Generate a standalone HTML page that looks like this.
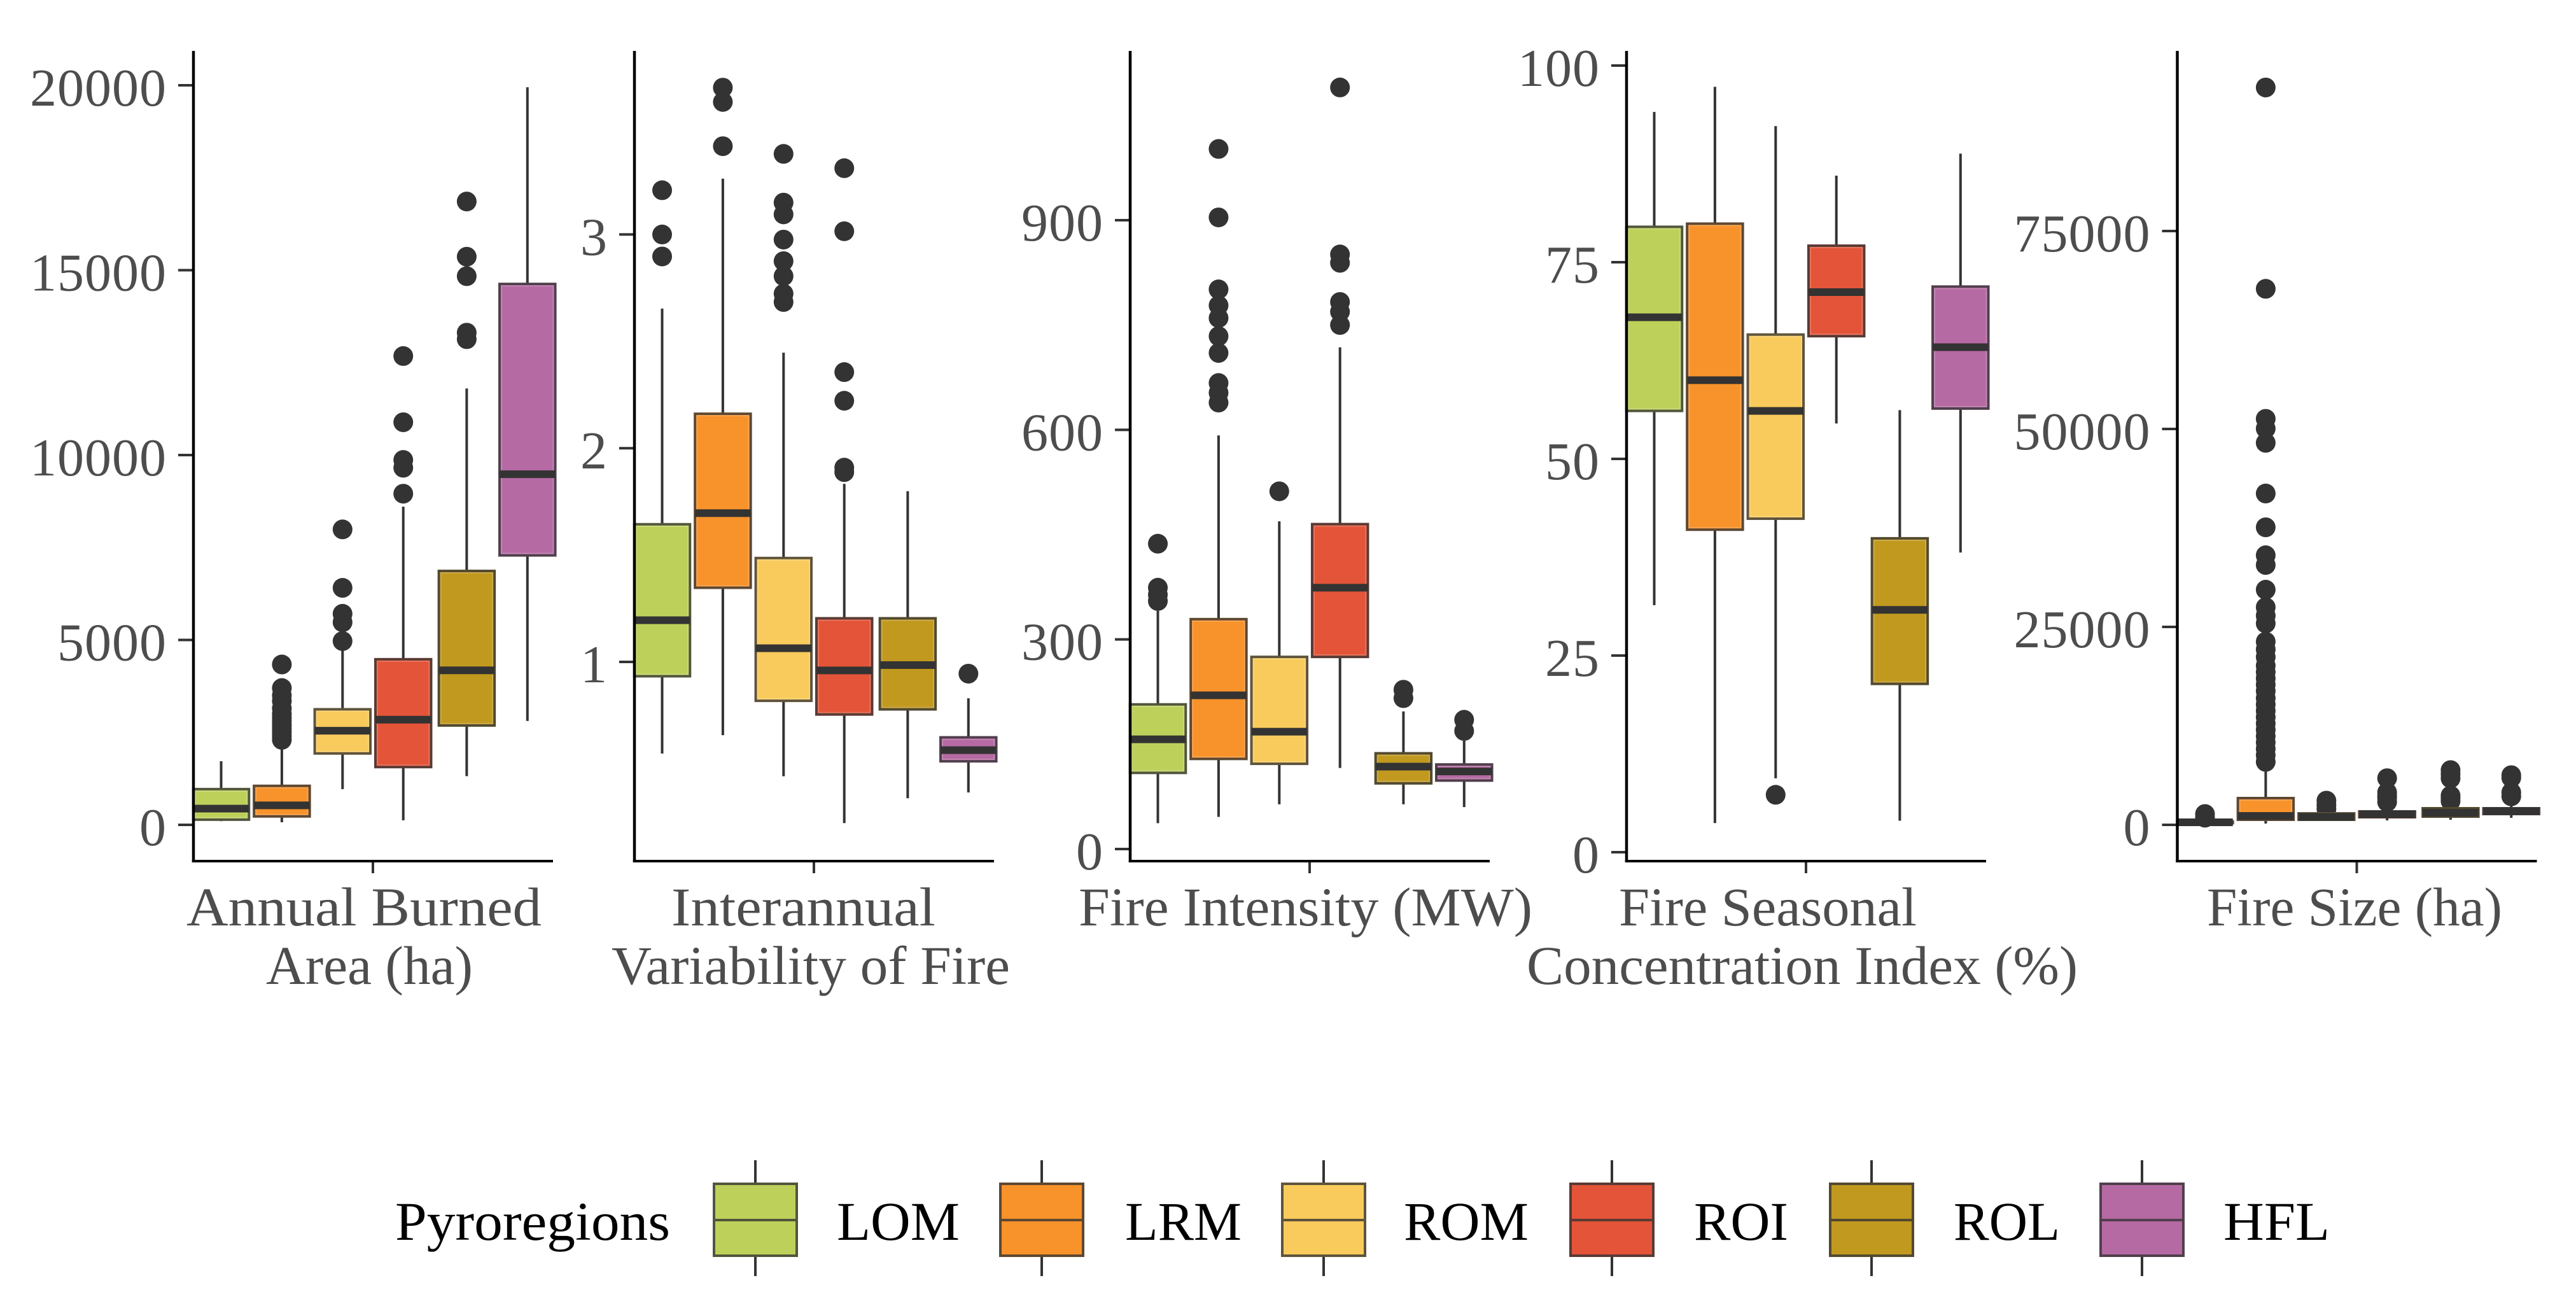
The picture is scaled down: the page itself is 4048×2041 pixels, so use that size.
<!DOCTYPE html>
<html lang="en">
<head>
<meta charset="utf-8">
<title>Fire regime metrics by pyroregion</title>
<style>
html,body{margin:0;padding:0;background:#fff;}
svg{display:block;}
text{font-family:"Liberation Serif",serif;}
.tick-text{font-size:84px;letter-spacing:1px;fill:#4d4d4d;text-anchor:end;}
.axis-title{font-size:86px;fill:#4d4d4d;}
.legend-text{font-size:86px;fill:#000;}
</style>
</head>
<body>
<svg id="chart" xmlns="http://www.w3.org/2000/svg" width="4048" height="2041" viewBox="0 0 4048 2041">
<rect x="0" y="0" width="4048" height="2041" fill="#fff"/>
<g id="panels"></g>

<g>
<text class="axis-title" x="293" y="1454" textLength="558" lengthAdjust="spacingAndGlyphs">Annual Burned</text>
<text class="axis-title" x="418" y="1546" textLength="325" lengthAdjust="spacingAndGlyphs">Area (ha)</text>
<text class="axis-title" x="1055" y="1454" textLength="415" lengthAdjust="spacingAndGlyphs">Interannual</text>
<text class="axis-title" x="961" y="1546" textLength="626" lengthAdjust="spacingAndGlyphs">Variability of Fire</text>
<text class="axis-title" x="1695" y="1454" textLength="713" lengthAdjust="spacingAndGlyphs">Fire Intensity (MW)</text>
<text class="axis-title" x="2544" y="1454" textLength="468" lengthAdjust="spacingAndGlyphs">Fire Seasonal</text>
<text class="axis-title" x="2399" y="1546" textLength="866" lengthAdjust="spacingAndGlyphs">Concentration Index (%)</text>
<text class="axis-title" x="3468" y="1454" textLength="464" lengthAdjust="spacingAndGlyphs">Fire Size (ha)</text>
</g>

<g>
<text class="legend-text" x="621" y="1948" textLength="432" lengthAdjust="spacingAndGlyphs">Pyroregions</text>
<g id="legend-keys"></g>
<text class="legend-text" x="1315" y="1948" textLength="193" lengthAdjust="spacingAndGlyphs">LOM</text>
<text class="legend-text" x="1768" y="1948" textLength="183" lengthAdjust="spacingAndGlyphs">LRM</text>
<text class="legend-text" x="2206" y="1948" textLength="196" lengthAdjust="spacingAndGlyphs">ROM</text>
<text class="legend-text" x="2662" y="1948" textLength="148" lengthAdjust="spacingAndGlyphs">ROI</text>
<text class="legend-text" x="3070" y="1948" textLength="167" lengthAdjust="spacingAndGlyphs">ROL</text>
<text class="legend-text" x="3494" y="1948" textLength="167" lengthAdjust="spacingAndGlyphs">HFL</text>
</g>
</svg>

<script>
const categories = ['LOM','LRM','ROM','ROI','ROL','HFL'];
const colors = ['#BDD15A','#F8922A','#F9CB5C','#E35438','#C1991F','#B66AA3'];

const areaTicks = [0,5000,10000,15000,20000];
const areaLow = [100,70,966,123,1317,2810];
const areaQ1 = [140,228,1931,1563,2687,7287];
const areaMedian = [439,527,2546,2845,4179,9482];
const areaQ3 = [966,1054,3125,4478,6866,14627];
const areaHigh = [1721,2107,4741,8604,11800,19947];
const areaOutliers = [[],[4337,3700,3500,3350,3150,3000,2900,2800,2700,2600,2500,2400,2300],[7990,6409,5707,5478,4969],[12678,10887,9868,9657,8955],[16857,15364,14838,13310,13134],[]];

const variabilityTicks = [1,2,3];
const variabilityLow = [0.571,0.657,0.465,0.246,0.362,0.389];
const variabilityQ1 = [0.933,1.347,0.818,0.754,0.778,0.535];
const variabilityMedian = [1.195,1.696,1.064,0.96,0.985,0.587];
const variabilityQ3 = [1.644,2.161,1.486,1.204,1.204,0.647];
const variabilityHigh = [2.653,3.261,2.447,1.833,1.799,0.83];
const variabilityOutliers = [[3.207,3.0,2.897],[3.687,3.62,3.413],[3.377,3.149,3.094,2.976,2.875,2.805,2.723,2.684],[3.31,3.015,2.356,2.222,1.909,1.888],[],[0.945]];

const intensityTicks = [0,300,600,900];
const intensityLow = [37,46,64,116,64,60];
const intensityQ1 = [109,129,122,275,94,98];
const intensityMedian = [157,220,168,374,118,111];
const intensityQ3 = [207,329,275,465,137,121];
const intensityHigh = [341,592,469,718,197,155];
const intensityOutliers = [[437,374,364,355],[1002,904,801,778,760,734,710,667,653,639],[512],[1090,851,839,783,769,750],[228,216],[185,169]];

const seasonalTicks = [0,25,50,75,100];
const seasonalLow = [31.4,3.7,9.4,54.5,4,38.1];
const seasonalQ1 = [56.1,41,42.4,65.6,21.4,56.4];
const seasonalMedian = [68,60,56.1,71.2,30.8,64.2];
const seasonalQ3 = [79.5,79.9,65.8,77.1,39.9,71.9];
const seasonalHigh = [94.1,97.3,92.3,86,56.2,88.8];
const seasonalOutliers = [[],[],[7.3],[],[],[]];

const sizeTicks = [0,25000,50000,75000];
const sizeLow = [200,160,600,560,650,884];
const sizeQ1 = [220,643,643,965,1045,1367];
const sizeMedian = [320,1125,1005,1367,1527,1728];
const sizeQ3 = [420,3376,1447,1688,2090,2090];
const sizeHigh = [800,7800,2000,2900,2900,3000];
const sizeOutliers = [[1367,900],[93130,67700,51280,50050,48250,41850,37580,34050,32820,29700,27490,26420,25440,23140,22150,21200,20100,19300,18500,17700,16900,16000,15200,14400,13600,12800,12000,11200,10400,9600,8800,7958],[3055,2500,2000],[5892,4100,3700,3430,2894],[6913,6400,5868,3700,3400,3000],[6270,5950,4100,3600]];

const panels = [
  {key:'burned-area', left:304, d0:0, d1:20000, r0:1296, r1:134, ticks:areaTicks, low:areaLow, q1:areaQ1, med:areaMedian, q3:areaQ3, high:areaHigh, out:areaOutliers},
  {key:'variability', left:997, d0:1, d1:3, r0:1040, r1:368.4, ticks:variabilityTicks, low:variabilityLow, q1:variabilityQ1, med:variabilityMedian, q3:variabilityQ3, high:variabilityHigh, out:variabilityOutliers},
  {key:'intensity', left:1776, d0:0, d1:900, r0:1334, r1:346, ticks:intensityTicks, low:intensityLow, q1:intensityQ1, med:intensityMedian, q3:intensityQ3, high:intensityHigh, out:intensityOutliers},
  {key:'seasonal', left:2556, d0:0, d1:100, r0:1339, r1:103, ticks:seasonalTicks, low:seasonalLow, q1:seasonalQ1, med:seasonalMedian, q3:seasonalQ3, high:seasonalHigh, out:seasonalOutliers},
  {key:'fire-size', left:3421.5, d0:0, d1:75000, r0:1296, r1:363, ticks:sizeTicks, low:sizeLow, q1:sizeQ1, med:sizeMedian, q3:sizeQ3, high:sizeHigh, out:sizeOutliers}
];

const SVGNS = 'http://www.w3.org/2000/svg';
const AXIS_WIDTH = 565, AXIS_TOP = 80, AXIS_BOTTOM = 1353;
const FIRST_OFFSET = 43.5, STEP = 95.4, BOX_W = 87.5, GROUP_GAP = 0.045;
const DARK = '#333333';

function make(tag, attrs, parent) {
  const el = document.createElementNS(SVGNS, tag);
  for (const k in attrs) el.setAttribute(k, attrs[k]);
  parent.appendChild(el);
  return el;
}
function xScale(panel, i) {
  return panel.left + FIRST_OFFSET + STEP * (i + (i >= 4 ? GROUP_GAP : 0));
}
function yScale(panel, v) {
  return panel.r0 + (v - panel.d0) * (panel.r1 - panel.r0) / (panel.d1 - panel.d0);
}
function tint(hex, share) {
  const a = parseInt(hex.slice(1), 16);
  const dark = 0x33;
  const mix = function (c) { return Math.round(dark * (1 - share) + c * share); };
  return 'rgb(' + mix((a >> 16) & 255) + ',' + mix((a >> 8) & 255) + ',' + mix(a & 255) + ')';
}

const panelsRoot = document.getElementById('panels');
panels.forEach(function (p) {
  const g = make('g', {}, panelsRoot);
  
  

  categories.forEach(function (cat, i) {
    const cx = xScale(p, i);
    const slug = cat.toLowerCase();
    const edge = tint(colors[i], 0.22);
    const group = make('g', {}, g);
    
    

    p.out[i].forEach(function (v) {
      const dot = make('circle', {cx: cx, cy: yScale(p, v), r: 15.5, fill: DARK}, group);
      
      
    });

    const upper = make('line', {x1: cx, x2: cx, y1: yScale(p, p.high[i]), y2: yScale(p, p.q3[i]), stroke: DARK, 'stroke-width': 4}, group);
    
    

    const lower = make('line', {x1: cx, x2: cx, y1: yScale(p, p.q1[i]), y2: yScale(p, p.low[i]), stroke: DARK, 'stroke-width': 4}, group);
    
    

    const top = yScale(p, p.q3[i]);
    const boxH = yScale(p, p.q1[i]) - top;
    const box = make('rect', {x: cx - BOX_W / 2, y: top, width: BOX_W, height: boxH, fill: colors[i], stroke: edge, 'stroke-width': 4}, group);
    
    

    if (boxH > 16) {
      const inner = make('rect', {x: cx - BOX_W / 2 + 3, y: top + 3, width: BOX_W - 6, height: boxH - 6, fill: 'none', stroke: '#fff', 'stroke-opacity': 0.2, 'stroke-width': 2}, group);
      
      
    }

    const med = make('line', {x1: cx - BOX_W / 2, x2: cx + BOX_W / 2, y1: yScale(p, p.med[i]), y2: yScale(p, p.med[i]), stroke: DARK, 'stroke-width': 12}, group);
    
    
  });

  p.ticks.forEach(function (t) {
    const y = yScale(p, t);
    const tick = make('line', {x1: p.left - 24, x2: p.left, y1: y, y2: y, stroke: DARK, 'stroke-width': 4}, g);
    
    

    const label = make('text', {x: p.left - 42, y: y + 32, class: 'tick-text'}, g);
    label.textContent = String(t);
    
    
  });

  const xTick = make('line', {x1: p.left + 282, x2: p.left + 282, y1: AXIS_BOTTOM, y2: AXIS_BOTTOM + 19, stroke: DARK, 'stroke-width': 4}, g);
  
  

  const yAxis = make('line', {x1: p.left, x2: p.left, y1: AXIS_TOP, y2: AXIS_BOTTOM + 2, stroke: '#000', 'stroke-width': 4.5}, g);
  
  

  const xAxis = make('line', {x1: p.left - 2.25, x2: p.left + AXIS_WIDTH, y1: AXIS_BOTTOM, y2: AXIS_BOTTOM, stroke: '#000', 'stroke-width': 4}, g);
  
  
});

const legendCenters = [1187,1637,2080,2533,2941,3366];
const legendRoot = document.getElementById('legend-keys');
categories.forEach(function (cat, i) {
  const slug = cat.toLowerCase();
  const cx = legendCenters[i];
  const edge = tint(colors[i], 0.22);
  const key = make('g', {}, legendRoot);
  
  
  const w = make('line', {x1: cx, x2: cx, y1: 1823, y2: 2005, stroke: DARK, 'stroke-width': 4}, key);
  
  
  const r = make('rect', {x: cx - 65, y: 1860, width: 130, height: 113, fill: colors[i], stroke: edge, 'stroke-width': 4}, key);
  
  
  const m = make('line', {x1: cx - 65, x2: cx + 65, y1: 1917, y2: 1917, stroke: edge, 'stroke-width': 4}, key);
  
  
});
</script>
</body>
</html>
